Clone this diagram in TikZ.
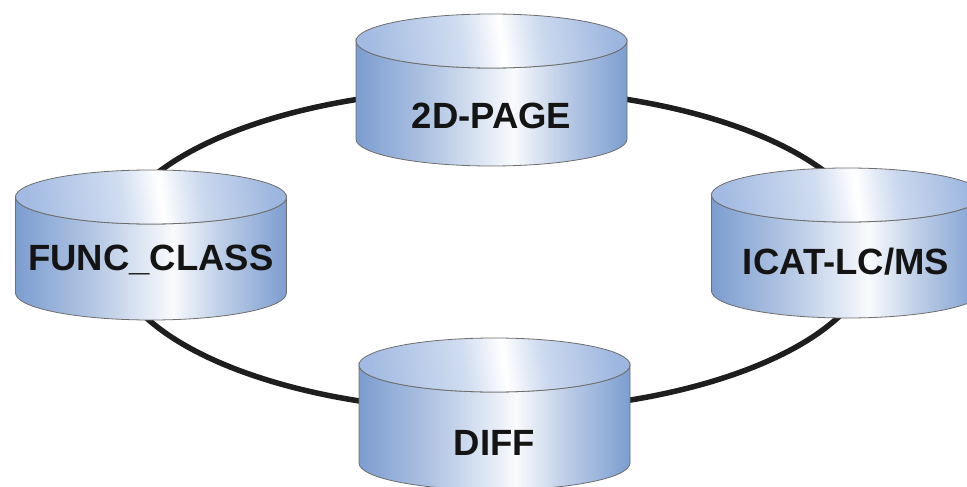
\documentclass[tikz,border=0pt]{standalone}
\usepackage{fontspec}
\setmainfont{Liberation Sans}
\definecolor{cylblue}{HTML}{7C9DD0}
\definecolor{cyltop}{HTML}{A3BBE2}
\definecolor{cylline}{HTML}{6E6E6E}
\definecolor{ringcol}{HTML}{1E1E1E}
\pgfdeclarehorizontalshading{cylbody}{100bp}{color(0bp)=(cylblue); color(25bp)=(cylblue); color(40bp)=(cylblue!55!white); color(54bp)=(white!95!cylblue); color(63bp)=(cylblue!50!white); color(75bp)=(cylblue); color(100bp)=(cylblue)}
\pgfdeclarehorizontalshading{cyltopsh}{100bp}{color(0bp)=(cyltop); color(25bp)=(cyltop); color(44bp)=(cyltop!50!white); color(52bp)=(white); color(60bp)=(cyltop!55!white); color(75bp)=(cyltop!85!cylblue); color(100bp)=(cyltop!85!cylblue)}
\newcommand\dbcylinder[3]{%
  \path[shading=cylbody, draw=cylline, line width=0.8pt] (#1-135.5,#2) -- (#1-135.5,#2+#3) arc[start angle=180,end angle=0,x radius=135.5,y radius=27] -- (#1+135.5,#2) arc[start angle=0,end angle=180,x radius=135.5,y radius=27] -- cycle;
  \path[shading=cyltopsh, shading angle=8, draw=cylline, line width=0.8pt] (#1,#2) ellipse[x radius=135.5, y radius=27];
}
\tikzset{
  dblabel/.style={font=\bfseries\fontsize{36.5}{40}\selectfont, text=black!92, inner sep=0pt},
  ringline/.style={draw=ringcol, line width=5.5pt}
}
\begin{document}
\begin{tikzpicture}[x=1pt,y=-1pt]
\useasboundingbox (0,0) rectangle (967,487);
\clip (0,0) rectangle (967,487);
\coordinate (ring) at (492,250);
\draw[ringline] (ring) ellipse[x radius=381, y radius=161];
\dbcylinder{491.5}{41}{98}
\dbcylinder{151}{197}{96}
\dbcylinder{847}{195}{96}
\dbcylinder{494.5}{365}{98}
\node[dblabel] (page) at (491.5,116) {2D-PAGE};
\node[dblabel] (func) at (151,260) {FUNC\_CLASS};
\node[dblabel] (icat) at (846,262) {ICAT-LC/MS};
\node[dblabel] (diff) at (494.5,443) {DIFF};
\end{tikzpicture}
\end{document}
